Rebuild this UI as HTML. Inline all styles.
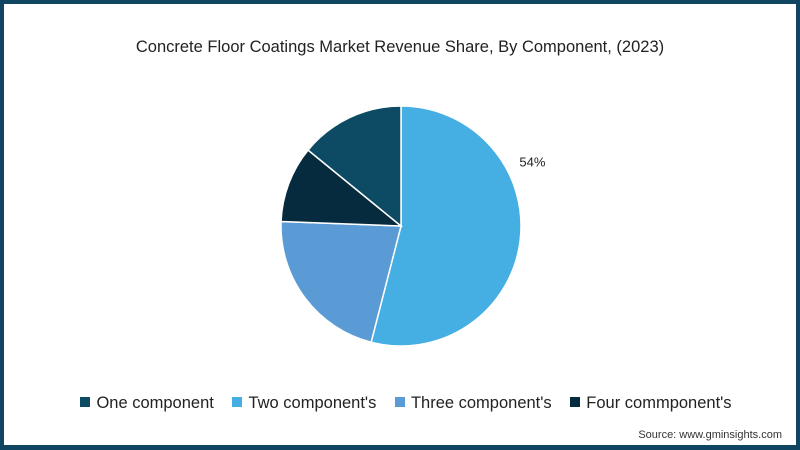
<!DOCTYPE html>
<html><head><meta charset="utf-8"><style>
html,body{margin:0;padding:0;background:#fff}
#frame{position:relative;width:800px;height:450px;box-sizing:border-box;border:4px solid #0f4560;border-bottom-width:5px;background:#fff;font-family:"Liberation Sans",sans-serif;overflow:hidden}
#title{position:absolute;top:34px;left:0;width:792px;text-align:center;font-size:16.5px;color:#222}
#legend{position:absolute;top:390px;left:6px;width:792px;text-align:center;font-size:16.5px;color:#222;white-space:nowrap}
.li{display:inline-block;margin:0 7px}
.sw{display:inline-block;width:10px;height:10px;margin-right:6px;vertical-align:1px}
#src{position:absolute;right:14px;top:425px;font-size:11px;color:#333}
</style></head><body>
<div id="frame">
<div id="title">Concrete Floor Coatings Market Revenue Share, By Component, (2023)</div>
<svg id="pie" width="792" height="441" style="position:absolute;left:0;top:0"></svg>
<div id="legend">
<span class="li"><span class="sw" style="background:#0d4a63"></span>One component</span>
<span class="li"><span class="sw" style="background:#45aee2"></span>Two component's</span>
<span class="li"><span class="sw" style="background:#5b9bd5"></span>Three component's</span>
<span class="li"><span class="sw" style="background:#062a3e"></span>Four commponent's</span>
</div>
<div id="src">Source: www.gminsights.com</div>
</div>
<script>
const categories=["Two component's","Three component's","Four commponent's","One component"];
const values=[54,21.6,10.3,14.1];
const labels=["54%","","",""];
const colors=["#45aee2","#5b9bd5","#062a3e","#0d4a63"];
const svg=document.getElementById('pie');
const NS='http://www.w3.org/2000/svg';
const cx=397,cy=222,r=120;
const total=values.reduce((a,b)=>a+b,0);
function pt(frac,rad){const a=frac*2*Math.PI;return [cx+rad*Math.sin(a),cy-rad*Math.cos(a)];}
let acc=0;
values.forEach((v,i)=>{
  const f0=acc/total,f1=(acc+v)/total;acc+=v;
  const p0=pt(f0,r),p1=pt(f1,r);
  const large=(f1-f0)>0.5?1:0;
  const path=document.createElementNS(NS,'path');
  path.setAttribute('d',`M${cx},${cy}L${p0[0]},${p0[1]}A${r},${r} 0 ${large} 1 ${p1[0]},${p1[1]}Z`);
  path.setAttribute('fill',colors[i]);
  path.setAttribute('stroke','#fff');
  path.setAttribute('stroke-width','1.5');
  
  
  svg.appendChild(path);
  if(labels[i]){
    const lp=pt(f0+(f1-f0)*0.33,146);
    const t=document.createElementNS(NS,'text');
    t.setAttribute('x',lp[0]);t.setAttribute('y',lp[1]+4);
    t.setAttribute('font-size','13');t.setAttribute('fill','#222');
    t.setAttribute('text-anchor','middle');
    t.setAttribute('font-family','Liberation Sans, sans-serif');
    t.textContent=labels[i];
    
    
    svg.appendChild(t);
  }
});
</script>
</body></html>
